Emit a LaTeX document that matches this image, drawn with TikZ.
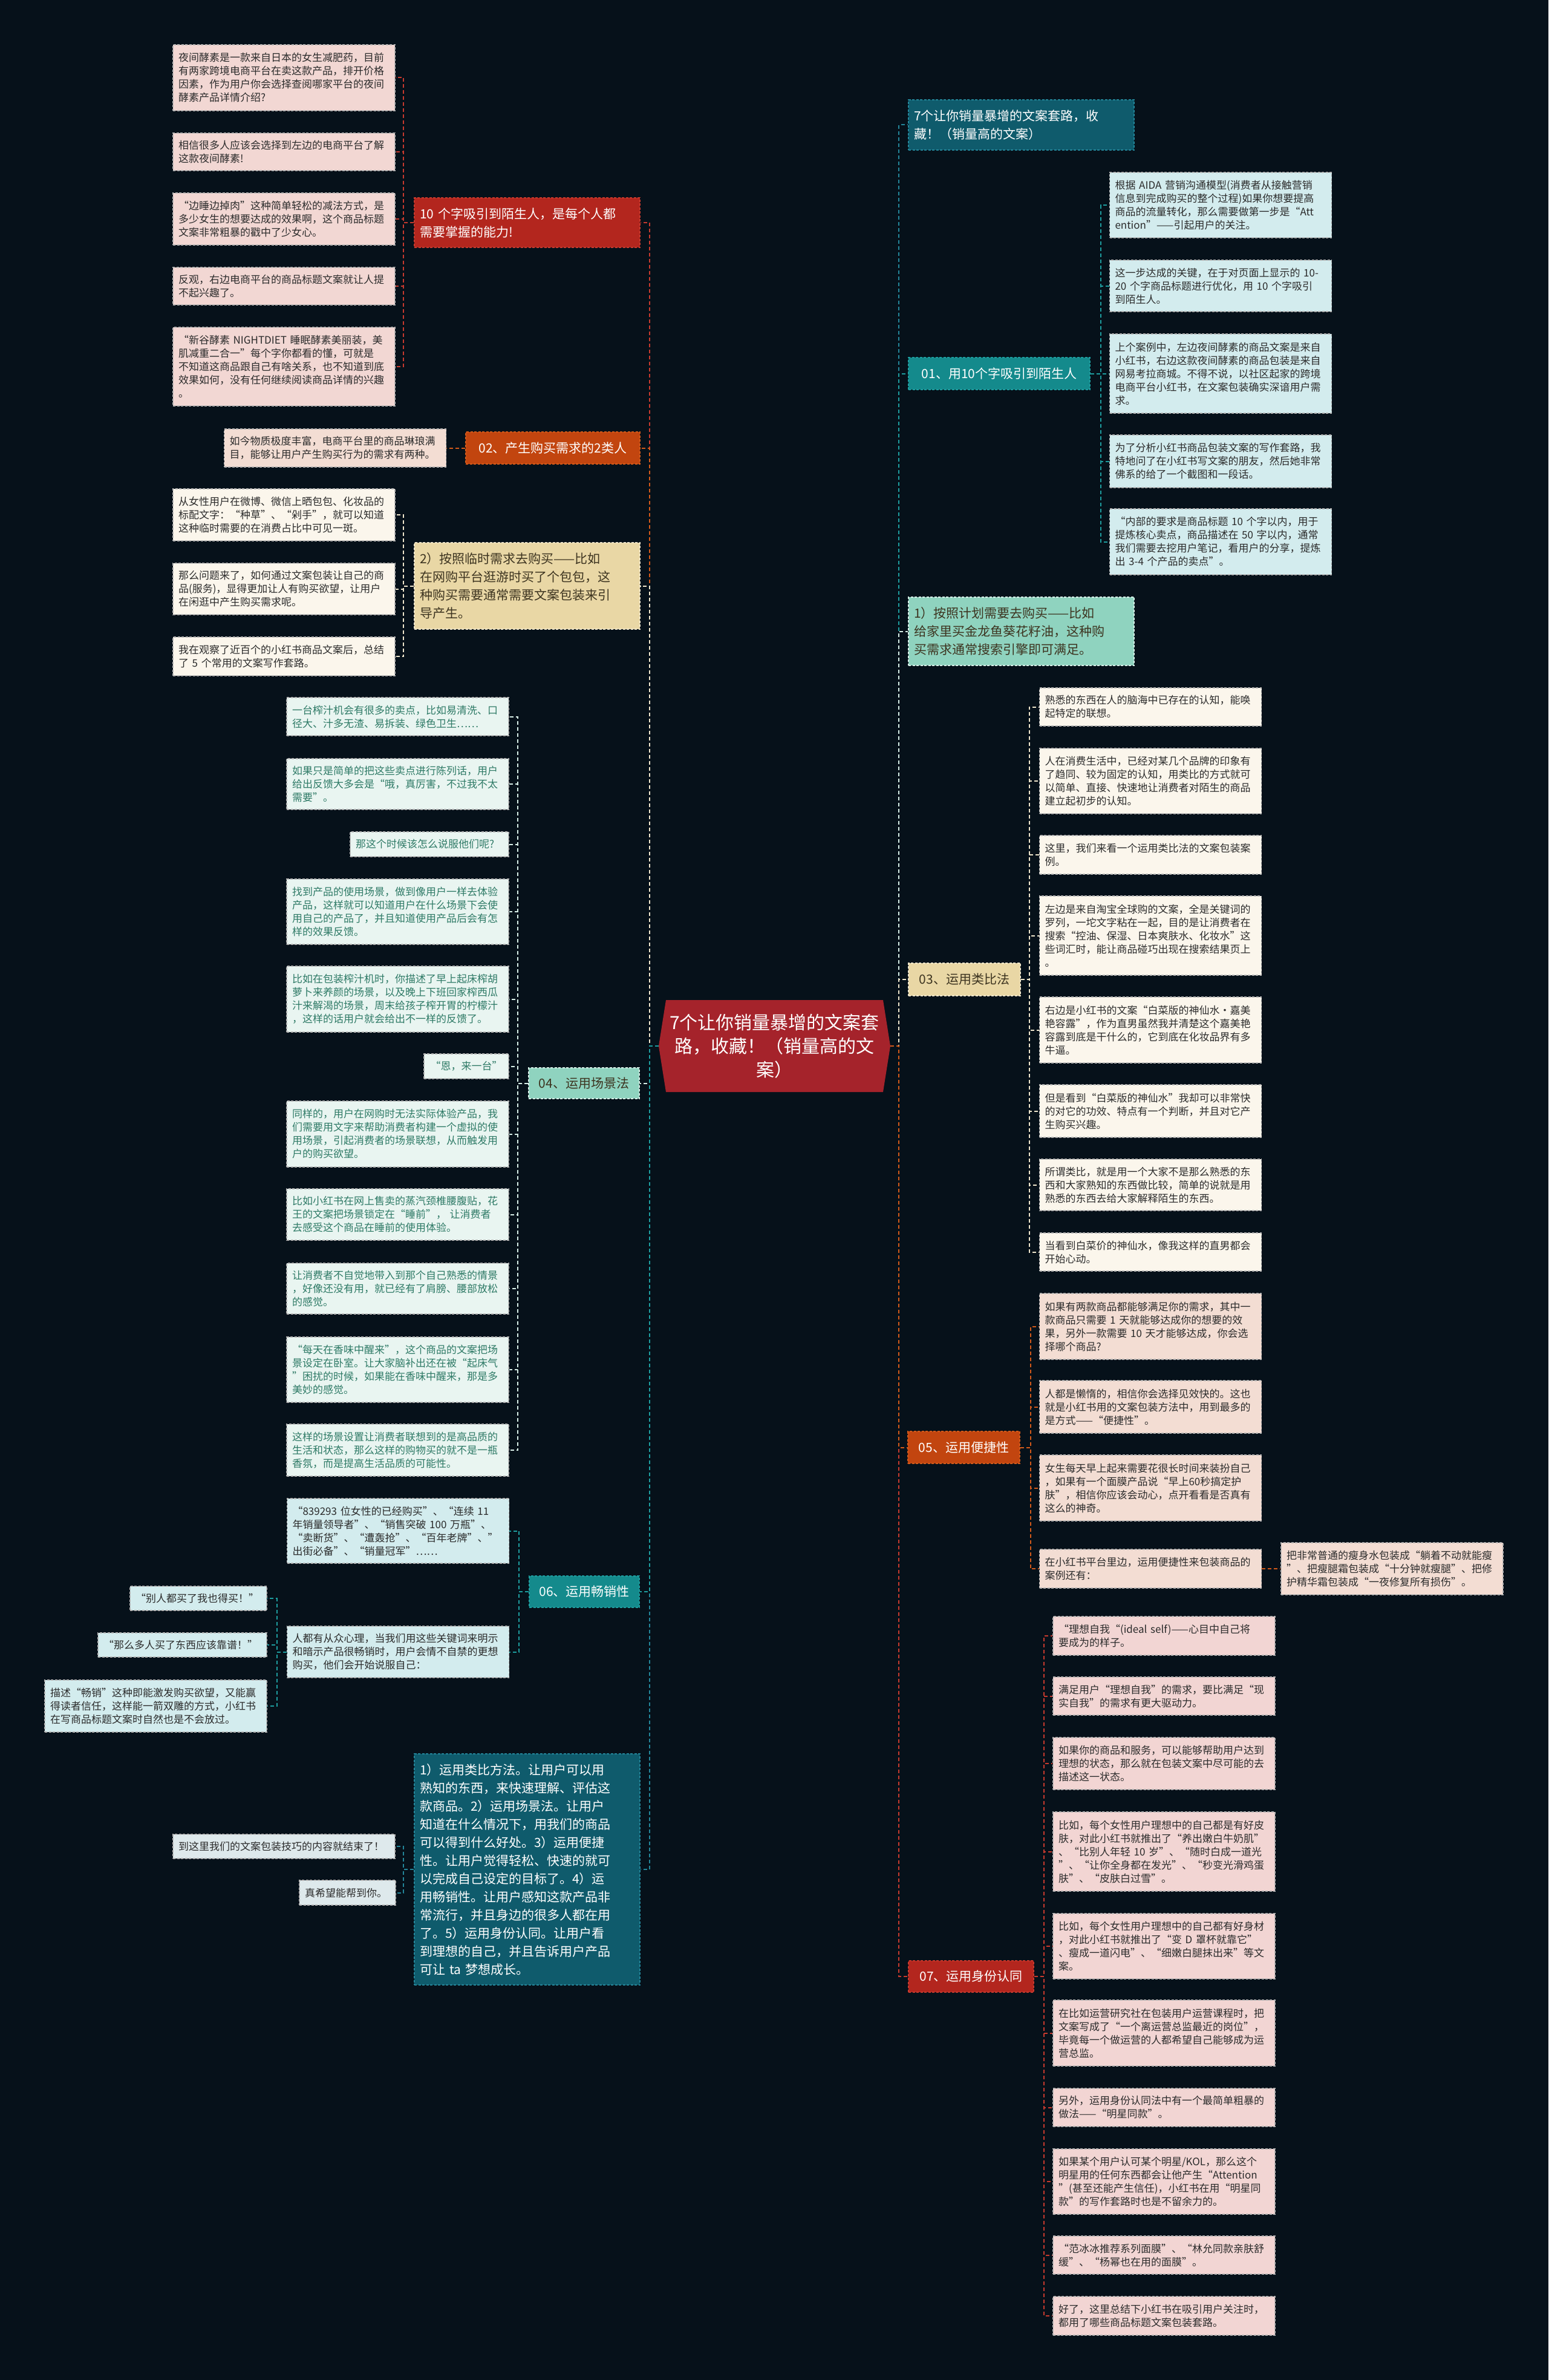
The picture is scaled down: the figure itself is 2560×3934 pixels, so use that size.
\documentclass[tikz,border=0pt]{standalone}
\usepackage{fontspec}
\setmainfont{Noto Sans CJK SC}
\usetikzlibrary{shapes.symbols}
\definecolor{bg}{HTML}{06111A}
\definecolor{cRed}{HTML}{B3261E}
\definecolor{cRedL}{HTML}{C83A2E}
\definecolor{cOr}{HTML}{C2450F}
\definecolor{cOrL}{HTML}{D35A1A}
\definecolor{cBeige}{HTML}{E9D7A5}
\definecolor{cBeigeL}{HTML}{EFE6CC}
\definecolor{cMint}{HTML}{8FD3BF}
\definecolor{cMintL}{HTML}{D8EFE8}
\definecolor{cTeal}{HTML}{148A8C}
\definecolor{cTealL}{HTML}{1E9EA0}
\definecolor{cDTeal}{HTML}{0F5B6C}
\definecolor{cDTealL}{HTML}{23869A}
\definecolor{ctrF}{HTML}{A5232B}
\definecolor{lfRed}{HTML}{F2D7D3}
\definecolor{lfOr}{HTML}{F3DDD3}
\definecolor{lfCream}{HTML}{FBF6EC}
\definecolor{lfMint}{HTML}{E9F5F1}
\definecolor{lfCyan}{HTML}{D3ECEE}
\definecolor{lfGray}{HTML}{DEE9EC}
\definecolor{lfPink}{HTML}{F2D5D3}
\definecolor{txt}{HTML}{2B2B2B}
\definecolor{txtG}{HTML}{2E7A66}
\definecolor{txtD}{HTML}{3D3420}
\begin{document}
\begin{tikzpicture}[x=1pt,y=-1pt,
  box/.style={rectangle, inner xsep=9pt, inner ysep=4pt, align=left, line width=1.2pt, dash pattern=on 4pt off 2.5pt},
  leaf/.style={box, font=\fontsize{17}{22}\selectfont, text width=349pt, text=txt, draw=black!30},
  mainnode/.style={box, font=\fontsize{21}{30}\selectfont},
  conn/.style={line width=2pt, dash pattern=on 6pt off 4pt},
  lR/.style={leaf, fill=lfRed},
  lO/.style={leaf, fill=lfOr},
  lC/.style={leaf, fill=lfCream},
  lM/.style={leaf, fill=lfMint, text=txtG},
  lT/.style={leaf, fill=lfCyan},
  lG/.style={leaf, fill=lfGray},
  lP/.style={leaf, fill=lfPink},
  ctrnode/.style={signal, signal to=east and west, signal pointer angle=162, inner sep=0pt,
     minimum width=383pt, minimum height=152pt, text width=352pt, align=center,
     fill=ctrF, text=white, font=\fontsize{30}{39}\selectfont}
]
\fill[bg] (0,0) rectangle (2560,3934);
\useasboundingbox (0,0) rectangle (2560,3934);

% centre
\node[ctrnode] (ctr) at (1280.5,1729) {7个让你销量暴增的文案套\\路，收藏！（销量高的文\\案）};

% ---------- left main nodes
\node[mainnode, fill=cRed, draw=cRedL, text=white, text width=355pt, minimum height=82pt] (n10) at (871.5,368) {10 个字吸引到陌生人，是每个人都\\需要掌握的能力!};
\node[mainnode, fill=cOr, draw=cOrL, text=white, minimum width=288pt, minimum height=53pt] (n02) at (914,740.5) {02、产生购买需求的2类人};
\node[mainnode, fill=cBeige, draw=cBeigeL, text=txtD, text width=355pt, minimum height=143pt] (n2) at (871.5,968.5) {2）按照临时需求去购买——比如\\在网购平台逛游时买了个包包，这\\种购买需要通常需要文案包装来引\\导产生。};
\node[mainnode, fill=cMint, draw=cMintL, text=txtD, minimum width=183pt, minimum height=51pt] (n04) at (965.5,1790.5) {04、运用场景法};
\node[mainnode, fill=cTeal, draw=cTealL, text=white, minimum width=182pt, minimum height=52pt] (n06) at (966,2631) {06、运用畅销性};
\node[mainnode, fill=cDTeal, draw=cDTealL, text=white, text width=355pt, minimum height=382pt] (nG) at (871.5,3090) {1）运用类比方法。让用户可以用\\熟知的东西，来快速理解、评估这\\款商品。2）运用场景法。让用户\\知道在什么情况下，用我们的商品\\可以得到什么好处。3）运用便捷\\性。让用户觉得轻松、快速的就可\\以完成自己设定的目标了。4）运\\用畅销性。让用户感知这款产品非\\常流行，并且身边的很多人都在用\\了。5）运用身份认同。让用户看\\到理想的自己，并且告诉用户产品\\可让 ta 梦想成长。};

% ---------- right main nodes
\node[mainnode, fill=cDTeal, draw=cDTealL, text=white, text width=355pt, minimum height=83pt] (r1) at (1688.5,206.5) {7个让你销量暴增的文案套路，收\\藏！（销量高的文案）};
\node[mainnode, fill=cTeal, draw=cTealL, text=white, minimum width=300pt, minimum height=53pt] (r2) at (1652,617.5) {01、用10个字吸引到陌生人};
\node[mainnode, fill=cMint, draw=cMintL, text=txtD, text width=355pt, minimum height=113pt] (r3) at (1688.5,1043.5) {1）按照计划需要去购买——比如\\给家里买金龙鱼葵花籽油，这种购\\买需求通常搜索引擎即可满足。};
\node[mainnode, fill=cBeige, draw=cBeigeL, text=txtD, minimum width=185pt, minimum height=54pt] (r4) at (1594.5,1619) {03、运用类比法};
\node[mainnode, fill=cOr, draw=cOrL, text=white, minimum width=185pt, minimum height=53pt] (r5) at (1593.5,2392.5) {05、运用便捷性};
\node[mainnode, fill=cRed, draw=cRedL, text=white, minimum width=207pt, minimum height=52pt] (r7) at (1605.5,3267) {07、运用身份认同};

% ---------- left leaves: red branch
\node[lR, minimum height=109pt] (a1) at (469.5,128.5) {夜间酵素是一款来自日本的女生减肥药，目前\\有两家跨境电商平台在卖这款产品，排开价格\\因素，作为用户你会选择查阅哪家平台的夜间\\酵素产品详情介绍?};
\node[lR, minimum height=62pt] (a2) at (469.5,251) {相信很多人应该会选择到左边的电商平台了解\\这款夜间酵素!};
\node[lR, minimum height=86pt] (a3) at (469.5,362) {“边睡边掉肉”这种简单轻松的减法方式，是\\多少女生的想要达成的效果啊，这个商品标题\\文案非常粗暴的戳中了少女心。};
\node[lR, minimum height=62pt] (a4) at (469.5,473) {反观，右边电商平台的商品标题文案就让人提\\不起兴趣了。};
\node[lR, minimum height=130pt] (a5) at (469.5,606) {“新谷酵素 NIGHTDIET 睡眠酵素美丽装，美\\肌减重二合一”每个字你都看的懂，可就是\\不知道这商品跟自己有啥关系，也不知道到底\\效果如何，没有任何继续阅读商品详情的兴趣\\。};

% 02 leaf
\node[lO, minimum height=63pt] (b1) at (554,740.5) {如今物质极度丰富，电商平台里的商品琳琅满\\目，能够让用户产生购买行为的需求有两种。};

% 2) leaves
\node[lC, minimum height=86pt] (c1) at (469.5,851) {从女性用户在微博、微信上晒包包、化妆品的\\标配文字：“种草”、“剁手”，就可以知道\\这种临时需要的在消费占比中可见一斑。};
\node[lC, minimum height=85pt] (c2) at (469.5,973.5) {那么问题来了，如何通过文案包装让自己的商\\品(服务)，显得更加让人有购买欲望，让用户\\在闲逛中产生购买需求呢。};
\node[lC, minimum height=64pt] (c3) at (469.5,1085) {我在观察了近百个的小红书商品文案后，总结\\了 5 个常用的文案写作套路。};

% 04 leaves
\node[lM, minimum height=63pt] (d1) at (657.5,1184.5) {一台榨汁机会有很多的卖点，比如易清洗、口\\径大、汁多无渣、易拆装、绿色卫生……};
\node[lM, minimum height=84pt] (d2) at (657.5,1296) {如果只是简单的把这些卖点进行陈列话，用户\\给出反馈大多会是“哦，真厉害，不过我不太\\需要”。};
\node[lM, text width=244pt, minimum height=41pt] (d3) at (710,1395.5) {那这个时候该怎么说服他们呢?};
\node[lM, minimum height=108pt] (d4) at (657.5,1507) {找到产品的使用场景，做到像用户一样去体验\\产品，这样就可以知道用户在什么场景下会使\\用自己的产品了，并且知道使用产品后会有怎\\样的效果反馈。};
\node[lM, minimum height=109pt] (d5) at (657.5,1651.5) {比如在包装榨汁机时，你描述了早上起床榨胡\\萝卜来养颜的场景，以及晚上下班回家榨西瓜\\汁来解渴的场景，周末给孩子榨开胃的柠檬汁\\，这样的话用户就会给出不一样的反馈了。};
\node[lM, text width=122pt, minimum height=41pt, align=center] (d6) at (771,1762.5) {“恩，来一台”};
\node[lM, minimum height=109pt] (d7) at (657.5,1874.5) {同样的，用户在网购时无法实际体验产品，我\\们需要用文字来帮助消费者构建一个虚拟的使\\用场景，引起消费者的场景联想，从而触发用\\户的购买欲望。};
\node[lM, minimum height=85pt] (d8) at (657.5,2007.5) {比如小红书在网上售卖的蒸汽颈椎腰腹贴，花\\王的文案把场景锁定在“睡前”， 让消费者\\去感受这个商品在睡前的使用体验。};
\node[lM, minimum height=84pt] (d9) at (657.5,2130) {让消费者不自觉地带入到那个自己熟悉的情景\\，好像还没有用，就已经有了肩膀、腰部放松\\的感觉。};
\node[lM, minimum height=108pt] (d10) at (657.5,2264) {“每天在香味中醒来”，这个商品的文案把场\\景设定在卧室。让大家脑补出还在被“起床气\\”困扰的时候，如果能在香味中醒来，那是多\\美妙的感觉。};
\node[lM, minimum height=86pt] (d11) at (657.5,2397) {这样的场景设置让消费者联想到的是高品质的\\生活和状态，那么这样的购物买的就不是一瓶\\香氛，而是提高生活品质的可能性。};

% 06 leaves
\node[lT, minimum height=107pt] (e1) at (658,2530.5) {“839293 位女性的已经购买”、“连续 11\\年销量领导者”、“销售突破 100 万瓶”、\\“卖断货”、“遭轰抢”、“百年老牌”、”\\出街必备”、“销量冠军”……};
\node[lT, minimum height=85pt] (e2) at (658,2730.5) {人都有从众心理，当我们用这些关键词来明示\\和暗示产品很畅销时，用户会情不自禁的更想\\购买，他们会开始说服自己：};
\node[lT, text width=208pt, minimum height=40pt] (f1) at (328,2642) {“别人都买了我也得买！”};
\node[lT, text width=261pt, minimum height=40pt] (f2) at (301.5,2719) {“那么多人买了东西应该靠谱！”};
\node[lT, minimum height=86pt] (f3) at (257.5,2820) {描述“畅销”这种即能激发购买欲望，又能赢\\得读者信任，这样能一箭双雕的方式，小红书\\在写商品标题文案时自然也是不会放过。};

% summary leaves
\node[lG, minimum height=40pt] (h1) at (469.5,3052) {到这里我们的文案包装技巧的内容就结束了！};
\node[lG, text width=141pt, minimum height=41pt] (h2) at (574.5,3128.5) {真希望能帮到你。};

% ---------- right leaves: 01
\node[lT, minimum height=108pt] (k1) at (2018,339) {根据 AIDA 营销沟通模型(消费者从接触营销\\信息到完成购买的整个过程)如果你想要提高\\商品的流量转化，那么需要做第一步是“Att\\ention”——引起用户的关注。};
\node[lT, minimum height=85pt] (k2) at (2018,472.5) {这一步达成的关键，在于对页面上显示的 10-\\20 个字商品标题进行优化，用 10 个字吸引\\到陌生人。};
\node[lT, minimum height=131pt] (k3) at (2018,617.5) {上个案例中，左边夜间酵素的商品文案是来自\\小红书，右边这款夜间酵素的商品包装是来自\\网易考拉商城。不得不说，以社区起家的跨境\\电商平台小红书，在文案包装确实深谙用户需\\求。};
\node[lT, minimum height=87pt] (k4) at (2018,762.5) {为了分析小红书商品包装文案的写作套路，我\\特地问了在小红书写文案的朋友，然后她非常\\佛系的给了一个截图和一段话。};
\node[lT, minimum height=109pt] (k5) at (2018,895.5) {“内部的要求是商品标题 10 个字以内，用于\\提炼核心卖点，商品描述在 50 字以内，通常\\我们需要去挖用户笔记，看用户的分享，提炼\\出 3-4 个产品的卖点”。};

% 03 leaves
\node[lC, minimum height=63pt] (l1) at (1902,1168.5) {熟悉的东西在人的脑海中已存在的认知，能唤\\起特定的联想。};
\node[lC, minimum height=108pt] (l2) at (1902,1291) {人在消费生活中，已经对某几个品牌的印象有\\了趋同、较为固定的认知，用类比的方式就可\\以简单、直接、快速地让消费者对陌生的商品\\建立起初步的认知。};
\node[lC, minimum height=64pt] (l3) at (1902,1413) {这里，我们来看一个运用类比法的文案包装案\\例。};
\node[lC, minimum height=131pt] (l4) at (1902,1546.5) {左边是来自淘宝全球购的文案，全是关键词的\\罗列，一坨文字粘在一起，目的是让消费者在\\搜索“控油、保湿、日本爽肤水、化妆水”这\\些词汇时，能让商品碰巧出现在搜索结果页上\\。};
\node[lC, minimum height=109pt] (l5) at (1902,1702.5) {右边是小红书的文案“白菜版的神仙水·嘉美\\艳容露”，作为直男虽然我并清楚这个嘉美艳\\容露到底是干什么的，它到底在化妆品界有多\\牛逼。};
\node[lC, minimum height=87pt] (l6) at (1902,1836.5) {但是看到“白菜版的神仙水”我却可以非常快\\的对它的功效、特点有一个判断，并且对它产\\生购买兴趣。};
\node[lC, minimum height=85pt] (l7) at (1902,1958.5) {所谓类比，就是用一个大家不是那么熟悉的东\\西和大家熟知的东西做比较，简单的说就是用\\熟悉的东西去给大家解释陌生的东西。};
\node[lC, minimum height=63pt] (l8) at (1902,2069.5) {当看到白菜价的神仙水，像我这样的直男都会\\开始心动。};

% 05 leaves
\node[lO, minimum height=109pt] (m1) at (1902,2192.5) {如果有两款商品都能够满足你的需求，其中一\\款商品只需要 1 天就能够达成你的想要的效\\果，另外一款需要 10 天才能够达成，你会选\\择哪个商品?};
\node[lO, minimum height=87pt] (m2) at (1902,2325.5) {人都是懒惰的，相信你会选择见效快的。这也\\就是小红书用的文案包装方法中，用到最多的\\是方式——“便捷性”。};
\node[lO, minimum height=109pt] (m3) at (1902,2459.5) {女生每天早上起来需要花很长时间来装扮自己\\，如果有一个面膜产品说“早上60秒搞定护\\肤”，相信你应该会动心，点开看看是否真有\\这么的神奇。};
\node[lO, minimum height=64pt] (m4) at (1902,2593) {在小红书平台里边，运用便捷性来包装商品的\\案例还有：};
\node[lO, minimum height=86pt] (n1) at (2301.5,2593) {把非常普通的瘦身水包装成“躺着不动就能瘦\\”、把瘦腿霜包装成“十分钟就瘦腿”、把修\\护精华霜包装成“一夜修复所有损伤”。};

% 07 leaves
\node[lP, minimum height=64pt] (p1) at (1924.5,2704) {“理想自我“(ideal self)——心目中自己将\\要成为的样子。};
\node[lP, minimum height=63pt] (p2) at (1924.5,2803.5) {满足用户“理想自我”的需求，要比满足“现\\实自我”的需求有更大驱动力。};
\node[lP, minimum height=86pt] (p3) at (1924.5,2915) {如果你的商品和服务，可以能够帮助用户达到\\理想的状态，那么就在包装文案中尽可能的去\\描述这一状态。};
\node[lP, minimum height=131pt] (p4) at (1924.5,3060.5) {比如，每个女性用户理想中的自己都是有好皮\\肤，对此小红书就推出了“养出嫩白牛奶肌”\\、“比别人年轻 10 岁”、“随时白成一道光\\”、“让你全身都在发光”、“秒变光滑鸡蛋\\肤”、“皮肤白过雪”。};
\node[lP, minimum height=108pt] (p5) at (1924.5,3217) {比如，每个女性用户理想中的自己都有好身材\\，对此小红书就推出了“变 D 罩杯就靠它”\\、瘦成一道闪电”、“细嫩白腿抹出来”等文\\案。};
\node[lP, minimum height=109pt] (p6) at (1924.5,3360.5) {在比如运营研究社在包装用户运营课程时，把\\文案写成了“一个离运营总监最近的岗位”，\\毕竟每一个做运营的人都希望自己能够成为运\\营总监。};
\node[lP, minimum height=63pt] (p7) at (1924.5,3483.5) {另外，运用身份认同法中有一个最简单粗暴的\\做法——“明星同款”。};
\node[lP, minimum height=108pt] (p8) at (1924.5,3606) {如果某个用户认可某个明星/KOL，那么这个\\明星用的任何东西都会让他产生“Attention\\”(甚至还能产生信任)，小红书在用“明星同\\款”的写作套路时也是不留余力的。};
\node[lP, minimum height=63pt] (p9) at (1924.5,3727.5) {“范冰冰推荐系列面膜”、“林允同款亲肤舒\\缓”、“杨幂也在用的面膜”。};
\node[lP, minimum height=64pt] (p10) at (1924.5,3828) {好了，这里总结下小红书在吸引用户关注时，\\都用了哪些商品标题文案包装套路。};

% ---------- connectors: centre to main nodes (left)
\draw[conn, draw=cRedL] (ctr.west) -- ++(-15,0) |- (n10.east);
\draw[conn, draw=cOrL] (ctr.west) -- ++(-15,0) |- (n02.east);
\draw[conn, draw=cBeigeL] (ctr.west) -- ++(-15,0) |- (n2.east);
\draw[conn, draw=cMintL] (ctr.west) -- ++(-15,0) |- (n04.east);
\draw[conn, draw=cDTealL] (ctr.west) -- ++(-15,0) |- (nG.east);
\draw[conn, draw=cTealL] (ctr.west) -- ++(-15,0) |- (n06.east);
% right
\draw[conn, draw=cDTealL] (ctr.east) -- ++(14,0) |- (r1.west);
\draw[conn, draw=cTealL] (ctr.east) -- ++(14,0) |- (r2.west);
\draw[conn, draw=cMintL] (ctr.east) -- ++(14,0) |- (r3.west);
\draw[conn, draw=cBeigeL] (ctr.east) -- ++(14,0) |- (r4.west);
\draw[conn, draw=cRedL] (ctr.east) -- ++(14,0) |- (r7.west);
\draw[conn, draw=cOrL] (ctr.east) -- ++(14,0) |- (r5.west);

% ---------- connectors to leaves
\foreach \l in {a1,a2,a3,a4,a5} \draw[conn, draw=cRedL] (n10.west) -- ++(-17,0) |- (\l.east);
\draw[conn, draw=cOrL] (n02.west) -- (b1.east);
\foreach \l in {c1,c2,c3} \draw[conn, draw=cBeigeL] (n2.west) -- ++(-17,0) |- (\l.east);
\foreach \l in {d1,d2,d3,d4,d5,d6,d7,d8,d9,d10,d11} \draw[conn, draw=cMintL] (n04.west) -- ++(-17,0) |- (\l.east);
\foreach \l in {e1,e2} \draw[conn, draw=cTealL] (n06.west) -- ++(-16,0) |- (\l.east);
\foreach \l in {f1,f2,f3} \draw[conn, draw=cTealL] (e2.west) -- ++(-16,0) |- (\l.east);
\foreach \l in {h1,h2} \draw[conn, draw=cDTealL] (nG.west) -- ++(-17,0) |- (\l.east);
\foreach \l in {k1,k2,k3,k4,k5} \draw[conn, draw=cTealL] (r2.east) -- ++(17,0) |- (\l.west);
\foreach \l in {l1,l2,l3,l4,l5,l6,l7,l8} \draw[conn, draw=cBeigeL] (r4.east) -- ++(14,0) |- (\l.west);
\foreach \l in {m1,m2,m3,m4} \draw[conn, draw=cOrL] (r5.east) -- ++(17,0) |- (\l.west);
\draw[conn, draw=cOrL] (m4.east) -- (n1.west);
\foreach \l in {p1,p2,p3,p4,p5,p6,p7,p8,p9,p10} \draw[conn, draw=cRedL] (r7.east) -- ++(16,0) |- (\l.west);
\end{tikzpicture}
\end{document}
